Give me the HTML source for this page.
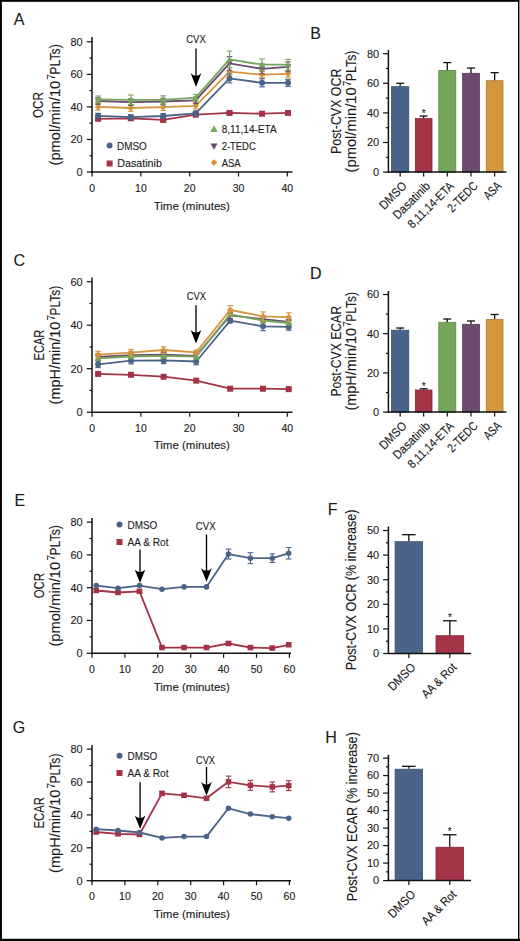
<!DOCTYPE html>
<html><head><meta charset="utf-8"><style>
html,body{margin:0;padding:0;background:#fff;}
svg{display:block;}
text{font-family:"Liberation Sans", sans-serif;fill:#1a1a1a;stroke:#1a1a1a;stroke-width:0.12px;}
</style></head><body>
<svg width="520" height="941" viewBox="0 0 520 941">
<rect x="0" y="0" width="520" height="941" fill="#fff"/>
<g>
<text x="13.8" y="25" font-size="16" text-anchor="start">A</text>
<line x1="92" y1="37" x2="92" y2="172.6" stroke="#111" stroke-width="1.5"/>
<line x1="86.7" y1="172.0" x2="92" y2="172.0" stroke="#111" stroke-width="1.2"/>
<text x="82.6" y="175.8" font-size="11.8" text-anchor="end" textLength="6.1" lengthAdjust="spacingAndGlyphs">0</text>
<line x1="86.7" y1="139.45" x2="92" y2="139.45" stroke="#111" stroke-width="1.2"/>
<text x="82.6" y="143.25" font-size="11.8" text-anchor="end" textLength="12.2" lengthAdjust="spacingAndGlyphs">20</text>
<line x1="86.7" y1="106.9" x2="92" y2="106.9" stroke="#111" stroke-width="1.2"/>
<text x="82.6" y="110.7" font-size="11.8" text-anchor="end" textLength="12.2" lengthAdjust="spacingAndGlyphs">40</text>
<line x1="86.7" y1="74.35000000000001" x2="92" y2="74.35000000000001" stroke="#111" stroke-width="1.2"/>
<text x="82.6" y="78.15" font-size="11.8" text-anchor="end" textLength="12.2" lengthAdjust="spacingAndGlyphs">60</text>
<line x1="86.7" y1="41.80000000000001" x2="92" y2="41.80000000000001" stroke="#111" stroke-width="1.2"/>
<text x="82.6" y="45.60000000000001" font-size="11.8" text-anchor="end" textLength="12.2" lengthAdjust="spacingAndGlyphs">80</text>
<line x1="89.5" y1="155.725" x2="92" y2="155.725" stroke="#111" stroke-width="1.2"/>
<line x1="89.5" y1="123.17500000000001" x2="92" y2="123.17500000000001" stroke="#111" stroke-width="1.2"/>
<line x1="89.5" y1="90.625" x2="92" y2="90.625" stroke="#111" stroke-width="1.2"/>
<line x1="89.5" y1="58.075" x2="92" y2="58.075" stroke="#111" stroke-width="1.2"/>
<line x1="91.25" y1="172" x2="292.4" y2="172" stroke="#111" stroke-width="1.5"/>
<line x1="92.1" y1="172" x2="92.1" y2="176.5" stroke="#111" stroke-width="1.2"/>
<text x="92.1" y="191.6" font-size="10.5" text-anchor="middle">0</text>
<line x1="140.89999999999998" y1="172" x2="140.89999999999998" y2="176.5" stroke="#111" stroke-width="1.2"/>
<text x="140.89999999999998" y="191.6" font-size="10.5" text-anchor="middle">10</text>
<line x1="189.7" y1="172" x2="189.7" y2="176.5" stroke="#111" stroke-width="1.2"/>
<text x="189.7" y="191.6" font-size="10.5" text-anchor="middle">20</text>
<line x1="238.5" y1="172" x2="238.5" y2="176.5" stroke="#111" stroke-width="1.2"/>
<text x="238.5" y="191.6" font-size="10.5" text-anchor="middle">30</text>
<line x1="287.29999999999995" y1="172" x2="287.29999999999995" y2="176.5" stroke="#111" stroke-width="1.2"/>
<text x="287.29999999999995" y="191.6" font-size="10.5" text-anchor="middle">40</text>
<text x="191.8" y="210.3" font-size="11.5" text-anchor="middle">Time (minutes)</text>
<text x="43.4" y="105" font-size="15" text-anchor="middle" transform="rotate(-90 43.4 105)" textLength="26" lengthAdjust="spacingAndGlyphs">OCR</text>
<text x="60" y="165.5" font-size="14" transform="rotate(-90 60 165.5)" textLength="84.7" lengthAdjust="spacingAndGlyphs">(pmol/min/10</text>
<text x="54.8" y="79.7" font-size="10" transform="rotate(-90 54.8 79.7)">7</text>
<text x="60" y="74.7" font-size="14" transform="rotate(-90 60 74.7)" textLength="30.5" lengthAdjust="spacingAndGlyphs">PLTs)</text>
<text x="196" y="43.1" font-size="11.2" text-anchor="middle" textLength="19.6" lengthAdjust="spacingAndGlyphs">CVX</text>
<line x1="196" y1="48.5" x2="196" y2="76.50000000000001" stroke="#000" stroke-width="1.35"/>
<path d="M190.7,73.30000000000001 Q196,78.42000000000002 201.3,73.30000000000001 L196,86.9 Z" fill="#000"/>
<polyline points="98.1,118.8 130.8,118.3 163.2,119.9 195.7,114.7 229.5,112.9 262.0,113.7 288.0,112.9" fill="none" stroke="#a33346" stroke-width="1.8" stroke-linejoin="round"/>
<line x1="98.1" y1="117.47874999999999" x2="98.1" y2="120.08275" stroke="#a33346" stroke-width="1.1"/>
<line x1="95.3" y1="117.47874999999999" x2="100.89999999999999" y2="117.47874999999999" stroke="#a33346" stroke-width="1.1"/>
<line x1="95.3" y1="120.08275" x2="100.89999999999999" y2="120.08275" stroke="#a33346" stroke-width="1.1"/>
<line x1="130.8" y1="116.9905" x2="130.8" y2="119.59450000000001" stroke="#a33346" stroke-width="1.1"/>
<line x1="128.0" y1="116.9905" x2="133.60000000000002" y2="116.9905" stroke="#a33346" stroke-width="1.1"/>
<line x1="128.0" y1="119.59450000000001" x2="133.60000000000002" y2="119.59450000000001" stroke="#a33346" stroke-width="1.1"/>
<line x1="163.2" y1="118.2925" x2="163.2" y2="121.5475" stroke="#a33346" stroke-width="1.1"/>
<line x1="160.39999999999998" y1="118.2925" x2="166.0" y2="118.2925" stroke="#a33346" stroke-width="1.1"/>
<line x1="160.39999999999998" y1="121.5475" x2="166.0" y2="121.5475" stroke="#a33346" stroke-width="1.1"/>
<line x1="195.7" y1="113.40999999999998" x2="195.7" y2="116.014" stroke="#a33346" stroke-width="1.1"/>
<line x1="192.89999999999998" y1="113.40999999999998" x2="198.5" y2="113.40999999999998" stroke="#a33346" stroke-width="1.1"/>
<line x1="192.89999999999998" y1="116.014" x2="198.5" y2="116.014" stroke="#a33346" stroke-width="1.1"/>
<line x1="229.5" y1="110.96875" x2="229.5" y2="114.87475" stroke="#a33346" stroke-width="1.1"/>
<line x1="226.7" y1="110.96875" x2="232.3" y2="110.96875" stroke="#a33346" stroke-width="1.1"/>
<line x1="226.7" y1="114.87475" x2="232.3" y2="114.87475" stroke="#a33346" stroke-width="1.1"/>
<line x1="262" y1="112.108" x2="262" y2="115.363" stroke="#a33346" stroke-width="1.1"/>
<line x1="259.2" y1="112.108" x2="264.8" y2="112.108" stroke="#a33346" stroke-width="1.1"/>
<line x1="259.2" y1="115.363" x2="264.8" y2="115.363" stroke="#a33346" stroke-width="1.1"/>
<line x1="288" y1="111.29425" x2="288" y2="114.54925" stroke="#a33346" stroke-width="1.1"/>
<line x1="285.2" y1="111.29425" x2="290.8" y2="111.29425" stroke="#a33346" stroke-width="1.1"/>
<line x1="285.2" y1="114.54925" x2="290.8" y2="114.54925" stroke="#a33346" stroke-width="1.1"/>
<rect x="95.1" y="115.78075" width="6.0" height="6.0" fill="#a33346"/>
<rect x="127.80000000000001" y="115.2925" width="6.0" height="6.0" fill="#a33346"/>
<rect x="160.2" y="116.92" width="6.0" height="6.0" fill="#a33346"/>
<rect x="192.7" y="111.71199999999999" width="6.0" height="6.0" fill="#a33346"/>
<rect x="226.5" y="109.92175" width="6.0" height="6.0" fill="#a33346"/>
<rect x="259.0" y="110.7355" width="6.0" height="6.0" fill="#a33346"/>
<rect x="285.0" y="109.92175" width="6.0" height="6.0" fill="#a33346"/>
<polyline points="98.1,106.9 130.8,108.0 163.2,107.2 195.7,105.8 229.5,71.7 262.0,74.7 288.0,73.9" fill="none" stroke="#d6943c" stroke-width="1.8" stroke-linejoin="round"/>
<line x1="98.1" y1="103.64500000000001" x2="98.1" y2="110.155" stroke="#d6943c" stroke-width="1.1"/>
<line x1="95.3" y1="103.64500000000001" x2="100.89999999999999" y2="103.64500000000001" stroke="#d6943c" stroke-width="1.1"/>
<line x1="95.3" y1="110.155" x2="100.89999999999999" y2="110.155" stroke="#d6943c" stroke-width="1.1"/>
<line x1="130.8" y1="104.78425000000001" x2="130.8" y2="111.29425" stroke="#d6943c" stroke-width="1.1"/>
<line x1="128.0" y1="104.78425000000001" x2="133.60000000000002" y2="104.78425000000001" stroke="#d6943c" stroke-width="1.1"/>
<line x1="128.0" y1="111.29425" x2="133.60000000000002" y2="111.29425" stroke="#d6943c" stroke-width="1.1"/>
<line x1="163.2" y1="103.97050000000002" x2="163.2" y2="110.4805" stroke="#d6943c" stroke-width="1.1"/>
<line x1="160.39999999999998" y1="103.97050000000002" x2="166.0" y2="103.97050000000002" stroke="#d6943c" stroke-width="1.1"/>
<line x1="160.39999999999998" y1="110.4805" x2="166.0" y2="110.4805" stroke="#d6943c" stroke-width="1.1"/>
<line x1="195.7" y1="102.50575" x2="195.7" y2="109.01575" stroke="#d6943c" stroke-width="1.1"/>
<line x1="192.89999999999998" y1="102.50575" x2="198.5" y2="102.50575" stroke="#d6943c" stroke-width="1.1"/>
<line x1="192.89999999999998" y1="109.01575" x2="198.5" y2="109.01575" stroke="#d6943c" stroke-width="1.1"/>
<line x1="229.5" y1="67.67725" x2="229.5" y2="75.81474999999999" stroke="#d6943c" stroke-width="1.1"/>
<line x1="226.7" y1="67.67725" x2="232.3" y2="67.67725" stroke="#d6943c" stroke-width="1.1"/>
<line x1="226.7" y1="75.81474999999999" x2="232.3" y2="75.81474999999999" stroke="#d6943c" stroke-width="1.1"/>
<line x1="262" y1="71.42050000000002" x2="262" y2="77.93050000000001" stroke="#d6943c" stroke-width="1.1"/>
<line x1="259.2" y1="71.42050000000002" x2="264.8" y2="71.42050000000002" stroke="#d6943c" stroke-width="1.1"/>
<line x1="259.2" y1="77.93050000000001" x2="264.8" y2="77.93050000000001" stroke="#d6943c" stroke-width="1.1"/>
<line x1="288" y1="70.60675000000002" x2="288" y2="77.11675000000001" stroke="#d6943c" stroke-width="1.1"/>
<line x1="285.2" y1="70.60675000000002" x2="290.8" y2="70.60675000000002" stroke="#d6943c" stroke-width="1.1"/>
<line x1="285.2" y1="77.11675000000001" x2="290.8" y2="77.11675000000001" stroke="#d6943c" stroke-width="1.1"/>
<polygon points="98.1,103.60000000000001 101.39999999999999,106.9 98.1,110.2 94.8,106.9" fill="#d6943c"/>
<polygon points="130.8,104.73925000000001 134.10000000000002,108.03925000000001 130.8,111.33925 127.50000000000001,108.03925000000001" fill="#d6943c"/>
<polygon points="163.2,103.92550000000001 166.5,107.22550000000001 163.2,110.52550000000001 159.89999999999998,107.22550000000001" fill="#d6943c"/>
<polygon points="195.7,102.46075 199.0,105.76075 195.7,109.06075 192.39999999999998,105.76075" fill="#d6943c"/>
<polygon points="229.5,68.446 232.8,71.746 229.5,75.04599999999999 226.2,71.746" fill="#d6943c"/>
<polygon points="262,71.37550000000002 265.3,74.67550000000001 262,77.97550000000001 258.7,74.67550000000001" fill="#d6943c"/>
<polygon points="288,70.56175000000002 291.3,73.86175000000001 288,77.16175000000001 284.7,73.86175000000001" fill="#d6943c"/>
<polyline points="98.1,115.9 130.8,117.2 163.2,116.0 195.7,113.4 229.5,78.4 262.0,82.8 288.0,82.8" fill="none" stroke="#4a6388" stroke-width="1.8" stroke-linejoin="round"/>
<line x1="98.1" y1="113.41" x2="98.1" y2="118.29249999999999" stroke="#4a6388" stroke-width="1.1"/>
<line x1="95.3" y1="113.41" x2="100.89999999999999" y2="113.41" stroke="#4a6388" stroke-width="1.1"/>
<line x1="95.3" y1="118.29249999999999" x2="100.89999999999999" y2="118.29249999999999" stroke="#4a6388" stroke-width="1.1"/>
<line x1="130.8" y1="114.712" x2="130.8" y2="119.5945" stroke="#4a6388" stroke-width="1.1"/>
<line x1="128.0" y1="114.712" x2="133.60000000000002" y2="114.712" stroke="#4a6388" stroke-width="1.1"/>
<line x1="128.0" y1="119.5945" x2="133.60000000000002" y2="119.5945" stroke="#4a6388" stroke-width="1.1"/>
<line x1="163.2" y1="113.57275000000001" x2="163.2" y2="118.45525" stroke="#4a6388" stroke-width="1.1"/>
<line x1="160.39999999999998" y1="113.57275000000001" x2="166.0" y2="113.57275000000001" stroke="#4a6388" stroke-width="1.1"/>
<line x1="160.39999999999998" y1="118.45525" x2="166.0" y2="118.45525" stroke="#4a6388" stroke-width="1.1"/>
<line x1="195.7" y1="110.96875" x2="195.7" y2="115.85125" stroke="#4a6388" stroke-width="1.1"/>
<line x1="192.89999999999998" y1="110.96875" x2="198.5" y2="110.96875" stroke="#4a6388" stroke-width="1.1"/>
<line x1="192.89999999999998" y1="115.85125" x2="198.5" y2="115.85125" stroke="#4a6388" stroke-width="1.1"/>
<line x1="229.5" y1="74.0245" x2="229.5" y2="82.813" stroke="#4a6388" stroke-width="1.1"/>
<line x1="226.7" y1="74.0245" x2="232.3" y2="74.0245" stroke="#4a6388" stroke-width="1.1"/>
<line x1="226.7" y1="82.813" x2="232.3" y2="82.813" stroke="#4a6388" stroke-width="1.1"/>
<line x1="262" y1="78.74425000000001" x2="262" y2="86.88175" stroke="#4a6388" stroke-width="1.1"/>
<line x1="259.2" y1="78.74425000000001" x2="264.8" y2="78.74425000000001" stroke="#4a6388" stroke-width="1.1"/>
<line x1="259.2" y1="86.88175" x2="264.8" y2="86.88175" stroke="#4a6388" stroke-width="1.1"/>
<line x1="288" y1="79.2325" x2="288" y2="86.3935" stroke="#4a6388" stroke-width="1.1"/>
<line x1="285.2" y1="79.2325" x2="290.8" y2="79.2325" stroke="#4a6388" stroke-width="1.1"/>
<line x1="285.2" y1="86.3935" x2="290.8" y2="86.3935" stroke="#4a6388" stroke-width="1.1"/>
<circle cx="98.1" cy="115.85125" r="3.0" fill="#4a6388"/>
<circle cx="130.8" cy="117.15325" r="3.0" fill="#4a6388"/>
<circle cx="163.2" cy="116.01400000000001" r="3.0" fill="#4a6388"/>
<circle cx="195.7" cy="113.41" r="3.0" fill="#4a6388"/>
<circle cx="229.5" cy="78.41875" r="3.0" fill="#4a6388"/>
<circle cx="262" cy="82.813" r="3.0" fill="#4a6388"/>
<circle cx="288" cy="82.813" r="3.0" fill="#4a6388"/>
<polyline points="98.1,101.0 130.8,102.2 163.2,101.5 195.7,100.4 229.5,63.4 262.0,68.8 288.0,66.9" fill="none" stroke="#6b4a6e" stroke-width="1.8" stroke-linejoin="round"/>
<line x1="98.1" y1="97.786" x2="98.1" y2="104.29599999999999" stroke="#6b4a6e" stroke-width="1.1"/>
<line x1="95.3" y1="97.786" x2="100.89999999999999" y2="97.786" stroke="#6b4a6e" stroke-width="1.1"/>
<line x1="95.3" y1="104.29599999999999" x2="100.89999999999999" y2="104.29599999999999" stroke="#6b4a6e" stroke-width="1.1"/>
<line x1="130.8" y1="98.92525" x2="130.8" y2="105.43525" stroke="#6b4a6e" stroke-width="1.1"/>
<line x1="128.0" y1="98.92525" x2="133.60000000000002" y2="98.92525" stroke="#6b4a6e" stroke-width="1.1"/>
<line x1="128.0" y1="105.43525" x2="133.60000000000002" y2="105.43525" stroke="#6b4a6e" stroke-width="1.1"/>
<line x1="163.2" y1="98.27425000000001" x2="163.2" y2="104.78425" stroke="#6b4a6e" stroke-width="1.1"/>
<line x1="160.39999999999998" y1="98.27425000000001" x2="166.0" y2="98.27425000000001" stroke="#6b4a6e" stroke-width="1.1"/>
<line x1="160.39999999999998" y1="104.78425" x2="166.0" y2="104.78425" stroke="#6b4a6e" stroke-width="1.1"/>
<line x1="195.7" y1="97.135" x2="195.7" y2="103.645" stroke="#6b4a6e" stroke-width="1.1"/>
<line x1="192.89999999999998" y1="97.135" x2="198.5" y2="97.135" stroke="#6b4a6e" stroke-width="1.1"/>
<line x1="192.89999999999998" y1="103.645" x2="198.5" y2="103.645" stroke="#6b4a6e" stroke-width="1.1"/>
<line x1="229.5" y1="56.61025000000001" x2="229.5" y2="70.28125" stroke="#6b4a6e" stroke-width="1.1"/>
<line x1="226.7" y1="56.61025000000001" x2="232.3" y2="56.61025000000001" stroke="#6b4a6e" stroke-width="1.1"/>
<line x1="226.7" y1="70.28125" x2="232.3" y2="70.28125" stroke="#6b4a6e" stroke-width="1.1"/>
<line x1="262" y1="63.934000000000005" x2="262" y2="73.69900000000001" stroke="#6b4a6e" stroke-width="1.1"/>
<line x1="259.2" y1="63.934000000000005" x2="264.8" y2="63.934000000000005" stroke="#6b4a6e" stroke-width="1.1"/>
<line x1="259.2" y1="73.69900000000001" x2="264.8" y2="73.69900000000001" stroke="#6b4a6e" stroke-width="1.1"/>
<line x1="288" y1="61.981000000000016" x2="288" y2="71.74600000000001" stroke="#6b4a6e" stroke-width="1.1"/>
<line x1="285.2" y1="61.981000000000016" x2="290.8" y2="61.981000000000016" stroke="#6b4a6e" stroke-width="1.1"/>
<line x1="285.2" y1="71.74600000000001" x2="290.8" y2="71.74600000000001" stroke="#6b4a6e" stroke-width="1.1"/>
<polygon points="94.89999999999999,98.481 101.3,98.481 98.1,104.241" fill="#6b4a6e"/>
<polygon points="127.60000000000001,99.62025 134.0,99.62025 130.8,105.38025" fill="#6b4a6e"/>
<polygon points="160.0,98.96925 166.39999999999998,98.96925 163.2,104.72925000000001" fill="#6b4a6e"/>
<polygon points="192.5,97.83 198.89999999999998,97.83 195.7,103.59" fill="#6b4a6e"/>
<polygon points="226.3,60.88575 232.7,60.88575 229.5,66.64575" fill="#6b4a6e"/>
<polygon points="258.8,66.2565 265.2,66.2565 262,72.01650000000001" fill="#6b4a6e"/>
<polygon points="284.8,64.30350000000001 291.2,64.30350000000001 288,70.06350000000002" fill="#6b4a6e"/>
<polyline points="98.1,99.3 130.8,99.9 163.2,99.9 195.7,97.6 229.5,59.4 262.0,64.7 288.0,64.7" fill="none" stroke="#74a65c" stroke-width="1.8" stroke-linejoin="round"/>
<line x1="98.1" y1="95.99575" x2="98.1" y2="102.50574999999999" stroke="#74a65c" stroke-width="1.1"/>
<line x1="95.3" y1="95.99575" x2="100.89999999999999" y2="95.99575" stroke="#74a65c" stroke-width="1.1"/>
<line x1="95.3" y1="102.50574999999999" x2="100.89999999999999" y2="102.50574999999999" stroke="#74a65c" stroke-width="1.1"/>
<line x1="130.8" y1="95.01925" x2="130.8" y2="104.78425000000001" stroke="#74a65c" stroke-width="1.1"/>
<line x1="128.0" y1="95.01925" x2="133.60000000000002" y2="95.01925" stroke="#74a65c" stroke-width="1.1"/>
<line x1="128.0" y1="104.78425000000001" x2="133.60000000000002" y2="104.78425000000001" stroke="#74a65c" stroke-width="1.1"/>
<line x1="163.2" y1="95.83300000000001" x2="163.2" y2="103.9705" stroke="#74a65c" stroke-width="1.1"/>
<line x1="160.39999999999998" y1="95.83300000000001" x2="166.0" y2="95.83300000000001" stroke="#74a65c" stroke-width="1.1"/>
<line x1="160.39999999999998" y1="103.9705" x2="166.0" y2="103.9705" stroke="#74a65c" stroke-width="1.1"/>
<line x1="195.7" y1="94.36825" x2="195.7" y2="100.87825" stroke="#74a65c" stroke-width="1.1"/>
<line x1="192.89999999999998" y1="94.36825" x2="198.5" y2="94.36825" stroke="#74a65c" stroke-width="1.1"/>
<line x1="192.89999999999998" y1="100.87825" x2="198.5" y2="100.87825" stroke="#74a65c" stroke-width="1.1"/>
<line x1="229.5" y1="51.07675" x2="229.5" y2="67.67724999999999" stroke="#74a65c" stroke-width="1.1"/>
<line x1="226.7" y1="51.07675" x2="232.3" y2="51.07675" stroke="#74a65c" stroke-width="1.1"/>
<line x1="226.7" y1="67.67724999999999" x2="232.3" y2="67.67724999999999" stroke="#74a65c" stroke-width="1.1"/>
<line x1="262" y1="58.888749999999995" x2="262" y2="70.60674999999999" stroke="#74a65c" stroke-width="1.1"/>
<line x1="259.2" y1="58.888749999999995" x2="264.8" y2="58.888749999999995" stroke="#74a65c" stroke-width="1.1"/>
<line x1="259.2" y1="70.60674999999999" x2="264.8" y2="70.60674999999999" stroke="#74a65c" stroke-width="1.1"/>
<line x1="288" y1="59.376999999999995" x2="288" y2="70.1185" stroke="#74a65c" stroke-width="1.1"/>
<line x1="285.2" y1="59.376999999999995" x2="290.8" y2="59.376999999999995" stroke="#74a65c" stroke-width="1.1"/>
<line x1="285.2" y1="70.1185" x2="290.8" y2="70.1185" stroke="#74a65c" stroke-width="1.1"/>
<polygon points="94.89999999999999,101.81075 101.3,101.81075 98.1,96.05075" fill="#74a65c"/>
<polygon points="127.60000000000001,102.46175000000001 134.0,102.46175000000001 130.8,96.70175" fill="#74a65c"/>
<polygon points="160.0,102.46175000000001 166.39999999999998,102.46175000000001 163.2,96.70175" fill="#74a65c"/>
<polygon points="192.5,100.18325 198.89999999999998,100.18325 195.7,94.42325" fill="#74a65c"/>
<polygon points="226.3,61.937 232.7,61.937 229.5,56.17699999999999" fill="#74a65c"/>
<polygon points="258.8,67.30775 265.2,67.30775 262,61.54774999999999" fill="#74a65c"/>
<polygon points="284.8,67.30775 291.2,67.30775 288,61.54774999999999" fill="#74a65c"/>
<circle cx="109.6" cy="145.6" r="3.0" fill="#4a6388"/>
<text x="117" y="150.2" font-size="11.8" text-anchor="start" textLength="29.8" lengthAdjust="spacingAndGlyphs">DMSO</text>
<rect x="106.6" y="160.5" width="6.0" height="6.0" fill="#a33346"/>
<text x="117.3" y="166.7" font-size="11.8" text-anchor="start" textLength="44.6" lengthAdjust="spacingAndGlyphs">Dasatinib</text>
<polygon points="210.32,131.944 217.68,131.944 214,125.32" fill="#74a65c"/>
<text x="221.7" y="132.6" font-size="11.8" text-anchor="start" textLength="55" lengthAdjust="spacingAndGlyphs">8,11,14-ETA</text>
<polygon points="210.48,143.484 217.52,143.484 214,149.82000000000002" fill="#6b4a6e"/>
<text x="221.7" y="150.2" font-size="11.8" text-anchor="start" textLength="34" lengthAdjust="spacingAndGlyphs">2-TEDC</text>
<polygon points="214,159.2 217.3,162.5 214,165.8 210.7,162.5" fill="#d6943c"/>
<text x="221.7" y="166.7" font-size="11.8" text-anchor="start" textLength="19" lengthAdjust="spacingAndGlyphs">ASA</text>
</g>
<text x="310.3" y="38.5" font-size="16" text-anchor="start">B</text>
<rect x="391.5" y="86.7" width="17.3" height="85.4" fill="#4a6388" stroke="#3c516f" stroke-width="0.8"/>
<line x1="400.15" y1="83.3" x2="400.15" y2="86.25999999999999" stroke="#111" stroke-width="1.3"/>
<line x1="396.15" y1="83.3" x2="404.15" y2="83.3" stroke="#111" stroke-width="1.3"/>
<rect x="415.29999999999995" y="118.5" width="16.7" height="53.6" fill="#a33346" stroke="#852939" stroke-width="0.8"/>
<line x1="423.65" y1="116.008" x2="423.65" y2="118.08" stroke="#111" stroke-width="1.3"/>
<line x1="419.65" y1="116.008" x2="427.65" y2="116.008" stroke="#111" stroke-width="1.3"/>
<rect x="438.79999999999995" y="70.4" width="17.0" height="101.7" fill="#74a65c" stroke="#5f884b" stroke-width="0.8"/>
<line x1="447.29999999999995" y1="62.58" x2="447.29999999999995" y2="69.97999999999999" stroke="#111" stroke-width="1.3"/>
<line x1="443.29999999999995" y1="62.58" x2="451.29999999999995" y2="62.58" stroke="#111" stroke-width="1.3"/>
<rect x="462.59999999999997" y="73.3" width="16.8" height="98.8" fill="#6b4a6e" stroke="#573c5a" stroke-width="0.8"/>
<line x1="471.0" y1="68.056" x2="471.0" y2="72.94" stroke="#111" stroke-width="1.3"/>
<line x1="467.0" y1="68.056" x2="475.0" y2="68.056" stroke="#111" stroke-width="1.3"/>
<rect x="486.29999999999995" y="80.7" width="16.7" height="91.4" fill="#d6943c" stroke="#af7931" stroke-width="0.8"/>
<line x1="494.65" y1="72.64399999999999" x2="494.65" y2="80.33999999999999" stroke="#111" stroke-width="1.3"/>
<line x1="490.65" y1="72.64399999999999" x2="498.65" y2="72.64399999999999" stroke="#111" stroke-width="1.3"/>
<line x1="388.4" y1="50" x2="388.4" y2="172.7" stroke="#111" stroke-width="1.5"/>
<line x1="383.09999999999997" y1="172.1" x2="388.4" y2="172.1" stroke="#111" stroke-width="1.2"/>
<text x="379.2" y="175.9" font-size="11.8" text-anchor="end" textLength="6.1" lengthAdjust="spacingAndGlyphs">0</text>
<line x1="383.09999999999997" y1="142.5" x2="388.4" y2="142.5" stroke="#111" stroke-width="1.2"/>
<text x="379.2" y="146.3" font-size="11.8" text-anchor="end" textLength="12.2" lengthAdjust="spacingAndGlyphs">20</text>
<line x1="383.09999999999997" y1="112.89999999999999" x2="388.4" y2="112.89999999999999" stroke="#111" stroke-width="1.2"/>
<text x="379.2" y="116.69999999999999" font-size="11.8" text-anchor="end" textLength="12.2" lengthAdjust="spacingAndGlyphs">40</text>
<line x1="383.09999999999997" y1="83.3" x2="388.4" y2="83.3" stroke="#111" stroke-width="1.2"/>
<text x="379.2" y="87.1" font-size="11.8" text-anchor="end" textLength="12.2" lengthAdjust="spacingAndGlyphs">60</text>
<line x1="383.09999999999997" y1="53.69999999999999" x2="388.4" y2="53.69999999999999" stroke="#111" stroke-width="1.2"/>
<text x="379.2" y="57.499999999999986" font-size="11.8" text-anchor="end" textLength="12.2" lengthAdjust="spacingAndGlyphs">80</text>
<line x1="385.9" y1="157.29999999999998" x2="388.4" y2="157.29999999999998" stroke="#111" stroke-width="1.2"/>
<line x1="385.9" y1="127.69999999999999" x2="388.4" y2="127.69999999999999" stroke="#111" stroke-width="1.2"/>
<line x1="385.9" y1="98.1" x2="388.4" y2="98.1" stroke="#111" stroke-width="1.2"/>
<line x1="385.9" y1="68.5" x2="388.4" y2="68.5" stroke="#111" stroke-width="1.2"/>
<line x1="387.6" y1="172.1" x2="506.4" y2="172.1" stroke="#111" stroke-width="1.5"/>
<line x1="400.15" y1="172.1" x2="400.15" y2="176.6" stroke="#111" stroke-width="1.2"/>
<text x="407.54999999999995" y="186.8" font-size="12.3" text-anchor="end" transform="rotate(-45 407.54999999999995 186.8)" textLength="33" lengthAdjust="spacingAndGlyphs">DMSO</text>
<line x1="423.65" y1="172.1" x2="423.65" y2="176.6" stroke="#111" stroke-width="1.2"/>
<text x="431.04999999999995" y="186.8" font-size="12.3" text-anchor="end" transform="rotate(-45 431.04999999999995 186.8)" textLength="47" lengthAdjust="spacingAndGlyphs">Dasatinib</text>
<line x1="447.29999999999995" y1="172.1" x2="447.29999999999995" y2="176.6" stroke="#111" stroke-width="1.2"/>
<text x="454.69999999999993" y="186.8" font-size="12.3" text-anchor="end" transform="rotate(-45 454.69999999999993 186.8)" textLength="59.5" lengthAdjust="spacingAndGlyphs">8,11,14-ETA</text>
<line x1="471.0" y1="172.1" x2="471.0" y2="176.6" stroke="#111" stroke-width="1.2"/>
<text x="478.4" y="186.8" font-size="12.3" text-anchor="end" transform="rotate(-45 478.4 186.8)" textLength="37.1" lengthAdjust="spacingAndGlyphs">2-TEDC</text>
<line x1="494.65" y1="172.1" x2="494.65" y2="176.6" stroke="#111" stroke-width="1.2"/>
<text x="502.04999999999995" y="186.8" font-size="12.3" text-anchor="end" transform="rotate(-45 502.04999999999995 186.8)" textLength="19.3" lengthAdjust="spacingAndGlyphs">ASA</text>
<text x="423.8" y="117" font-size="10" text-anchor="middle">*</text>
<text x="340.8" y="111.3" font-size="15" text-anchor="middle" transform="rotate(-90 340.8 111.3)" textLength="85.3" lengthAdjust="spacingAndGlyphs">Post-CVX OCR</text>
<text x="356.3" y="172.4" font-size="14" transform="rotate(-90 356.3 172.4)" textLength="85.0" lengthAdjust="spacingAndGlyphs">(pmol/min/10</text>
<text x="351.1" y="86.2" font-size="10" transform="rotate(-90 351.1 86.2)">7</text>
<text x="356.3" y="81.2" font-size="14" transform="rotate(-90 356.3 81.2)" textLength="30.6" lengthAdjust="spacingAndGlyphs">PLTs)</text>
<text x="13.6" y="266" font-size="16" text-anchor="start">C</text>
<line x1="92" y1="277.5" x2="92" y2="412.8" stroke="#111" stroke-width="1.5"/>
<line x1="86.7" y1="412.2" x2="92" y2="412.2" stroke="#111" stroke-width="1.2"/>
<text x="82.6" y="416.0" font-size="11.8" text-anchor="end" textLength="6.1" lengthAdjust="spacingAndGlyphs">0</text>
<line x1="86.7" y1="368.7" x2="92" y2="368.7" stroke="#111" stroke-width="1.2"/>
<text x="82.6" y="372.5" font-size="11.8" text-anchor="end" textLength="12.2" lengthAdjust="spacingAndGlyphs">20</text>
<line x1="86.7" y1="325.2" x2="92" y2="325.2" stroke="#111" stroke-width="1.2"/>
<text x="82.6" y="329.0" font-size="11.8" text-anchor="end" textLength="12.2" lengthAdjust="spacingAndGlyphs">40</text>
<line x1="86.7" y1="281.7" x2="92" y2="281.7" stroke="#111" stroke-width="1.2"/>
<text x="82.6" y="285.5" font-size="11.8" text-anchor="end" textLength="12.2" lengthAdjust="spacingAndGlyphs">60</text>
<line x1="89.5" y1="390.45" x2="92" y2="390.45" stroke="#111" stroke-width="1.2"/>
<line x1="89.5" y1="346.95" x2="92" y2="346.95" stroke="#111" stroke-width="1.2"/>
<line x1="89.5" y1="303.45" x2="92" y2="303.45" stroke="#111" stroke-width="1.2"/>
<line x1="91.25" y1="412.2" x2="292.4" y2="412.2" stroke="#111" stroke-width="1.5"/>
<line x1="92.1" y1="412.2" x2="92.1" y2="416.7" stroke="#111" stroke-width="1.2"/>
<text x="92.1" y="431.8" font-size="10.5" text-anchor="middle">0</text>
<line x1="140.89999999999998" y1="412.2" x2="140.89999999999998" y2="416.7" stroke="#111" stroke-width="1.2"/>
<text x="140.89999999999998" y="431.8" font-size="10.5" text-anchor="middle">10</text>
<line x1="189.7" y1="412.2" x2="189.7" y2="416.7" stroke="#111" stroke-width="1.2"/>
<text x="189.7" y="431.8" font-size="10.5" text-anchor="middle">20</text>
<line x1="238.5" y1="412.2" x2="238.5" y2="416.7" stroke="#111" stroke-width="1.2"/>
<text x="238.5" y="431.8" font-size="10.5" text-anchor="middle">30</text>
<line x1="287.29999999999995" y1="412.2" x2="287.29999999999995" y2="416.7" stroke="#111" stroke-width="1.2"/>
<text x="287.29999999999995" y="431.8" font-size="10.5" text-anchor="middle">40</text>
<text x="191.8" y="448.5" font-size="11.5" text-anchor="middle">Time (minutes)</text>
<text x="44.1" y="345.1" font-size="15" text-anchor="middle" transform="rotate(-90 44.1 345.1)" textLength="30.6" lengthAdjust="spacingAndGlyphs">ECAR</text>
<text x="60.3" y="404.4" font-size="14" transform="rotate(-90 60.3 404.4)" textLength="82.8" lengthAdjust="spacingAndGlyphs">(mpH/min/10</text>
<text x="55.099999999999994" y="320.4" font-size="10" transform="rotate(-90 55.099999999999994 320.4)">7</text>
<text x="60.3" y="315.4" font-size="14" transform="rotate(-90 60.3 315.4)" textLength="29.6" lengthAdjust="spacingAndGlyphs">PLTs)</text>
<text x="196.3" y="300.2" font-size="11.2" text-anchor="middle" textLength="19.2" lengthAdjust="spacingAndGlyphs">CVX</text>
<line x1="196" y1="305.3" x2="196" y2="333.09999999999997" stroke="#000" stroke-width="1.35"/>
<path d="M190.7,329.9 Q196,335.02 201.3,329.9 L196,343.5 Z" fill="#000"/>
<polyline points="98.1,373.9 131.0,374.8 163.6,376.7 196.2,380.7 230.2,388.7 263.0,388.7 288.7,389.1" fill="none" stroke="#a33346" stroke-width="1.8" stroke-linejoin="round"/>
<rect x="95.1" y="370.91999999999996" width="6.0" height="6.0" fill="#a33346"/>
<rect x="128.0" y="371.78999999999996" width="6.0" height="6.0" fill="#a33346"/>
<rect x="160.6" y="373.7475" width="6.0" height="6.0" fill="#a33346"/>
<rect x="193.2" y="377.66249999999997" width="6.0" height="6.0" fill="#a33346"/>
<rect x="227.2" y="385.71" width="6.0" height="6.0" fill="#a33346"/>
<rect x="260.0" y="385.71" width="6.0" height="6.0" fill="#a33346"/>
<rect x="285.7" y="386.145" width="6.0" height="6.0" fill="#a33346"/>
<polyline points="98.1,364.4 131.0,360.7 163.6,360.4 196.2,361.5 230.2,320.6 263.0,326.3 288.7,326.9" fill="none" stroke="#4a6388" stroke-width="1.8" stroke-linejoin="round"/>
<line x1="98.1" y1="361.08750000000003" x2="98.1" y2="367.6125" stroke="#4a6388" stroke-width="1.1"/>
<line x1="95.3" y1="361.08750000000003" x2="100.89999999999999" y2="361.08750000000003" stroke="#4a6388" stroke-width="1.1"/>
<line x1="95.3" y1="367.6125" x2="100.89999999999999" y2="367.6125" stroke="#4a6388" stroke-width="1.1"/>
<line x1="131" y1="357.39" x2="131" y2="363.91499999999996" stroke="#4a6388" stroke-width="1.1"/>
<line x1="128.2" y1="357.39" x2="133.8" y2="357.39" stroke="#4a6388" stroke-width="1.1"/>
<line x1="128.2" y1="363.91499999999996" x2="133.8" y2="363.91499999999996" stroke="#4a6388" stroke-width="1.1"/>
<line x1="163.6" y1="357.1725" x2="163.6" y2="363.6975" stroke="#4a6388" stroke-width="1.1"/>
<line x1="160.79999999999998" y1="357.1725" x2="166.4" y2="357.1725" stroke="#4a6388" stroke-width="1.1"/>
<line x1="160.79999999999998" y1="363.6975" x2="166.4" y2="363.6975" stroke="#4a6388" stroke-width="1.1"/>
<line x1="196.2" y1="358.26" x2="196.2" y2="364.78499999999997" stroke="#4a6388" stroke-width="1.1"/>
<line x1="193.39999999999998" y1="358.26" x2="199.0" y2="358.26" stroke="#4a6388" stroke-width="1.1"/>
<line x1="193.39999999999998" y1="364.78499999999997" x2="199.0" y2="364.78499999999997" stroke="#4a6388" stroke-width="1.1"/>
<line x1="230.2" y1="318.4575" x2="230.2" y2="322.8075" stroke="#4a6388" stroke-width="1.1"/>
<line x1="227.39999999999998" y1="318.4575" x2="233.0" y2="318.4575" stroke="#4a6388" stroke-width="1.1"/>
<line x1="227.39999999999998" y1="322.8075" x2="233.0" y2="322.8075" stroke="#4a6388" stroke-width="1.1"/>
<line x1="263" y1="321.9375" x2="263" y2="330.63750000000005" stroke="#4a6388" stroke-width="1.1"/>
<line x1="260.2" y1="321.9375" x2="265.8" y2="321.9375" stroke="#4a6388" stroke-width="1.1"/>
<line x1="260.2" y1="330.63750000000005" x2="265.8" y2="330.63750000000005" stroke="#4a6388" stroke-width="1.1"/>
<line x1="288.7" y1="323.6775" x2="288.7" y2="330.2025" stroke="#4a6388" stroke-width="1.1"/>
<line x1="285.9" y1="323.6775" x2="291.5" y2="323.6775" stroke="#4a6388" stroke-width="1.1"/>
<line x1="285.9" y1="330.2025" x2="291.5" y2="330.2025" stroke="#4a6388" stroke-width="1.1"/>
<circle cx="98.1" cy="364.35" r="3.0" fill="#4a6388"/>
<circle cx="131" cy="360.6525" r="3.0" fill="#4a6388"/>
<circle cx="163.6" cy="360.435" r="3.0" fill="#4a6388"/>
<circle cx="196.2" cy="361.5225" r="3.0" fill="#4a6388"/>
<circle cx="230.2" cy="320.6325" r="3.0" fill="#4a6388"/>
<circle cx="263" cy="326.2875" r="3.0" fill="#4a6388"/>
<circle cx="288.7" cy="326.94" r="3.0" fill="#4a6388"/>
<polyline points="98.1,357.0 131.0,355.2 163.6,354.6 196.2,355.9 230.2,315.4 263.0,319.1 288.7,321.9" fill="none" stroke="#6b4a6e" stroke-width="1.8" stroke-linejoin="round"/>
<line x1="98.1" y1="353.6925" x2="98.1" y2="360.2175" stroke="#6b4a6e" stroke-width="1.1"/>
<line x1="95.3" y1="353.6925" x2="100.89999999999999" y2="353.6925" stroke="#6b4a6e" stroke-width="1.1"/>
<line x1="95.3" y1="360.2175" x2="100.89999999999999" y2="360.2175" stroke="#6b4a6e" stroke-width="1.1"/>
<line x1="131" y1="351.9525" x2="131" y2="358.47749999999996" stroke="#6b4a6e" stroke-width="1.1"/>
<line x1="128.2" y1="351.9525" x2="133.8" y2="351.9525" stroke="#6b4a6e" stroke-width="1.1"/>
<line x1="128.2" y1="358.47749999999996" x2="133.8" y2="358.47749999999996" stroke="#6b4a6e" stroke-width="1.1"/>
<line x1="163.6" y1="351.3" x2="163.6" y2="357.825" stroke="#6b4a6e" stroke-width="1.1"/>
<line x1="160.79999999999998" y1="351.3" x2="166.4" y2="351.3" stroke="#6b4a6e" stroke-width="1.1"/>
<line x1="160.79999999999998" y1="357.825" x2="166.4" y2="357.825" stroke="#6b4a6e" stroke-width="1.1"/>
<line x1="196.2" y1="353.6925" x2="196.2" y2="358.0425" stroke="#6b4a6e" stroke-width="1.1"/>
<line x1="193.39999999999998" y1="353.6925" x2="199.0" y2="353.6925" stroke="#6b4a6e" stroke-width="1.1"/>
<line x1="193.39999999999998" y1="358.0425" x2="199.0" y2="358.0425" stroke="#6b4a6e" stroke-width="1.1"/>
<line x1="230.2" y1="312.15000000000003" x2="230.2" y2="318.675" stroke="#6b4a6e" stroke-width="1.1"/>
<line x1="227.39999999999998" y1="312.15000000000003" x2="233.0" y2="312.15000000000003" stroke="#6b4a6e" stroke-width="1.1"/>
<line x1="227.39999999999998" y1="318.675" x2="233.0" y2="318.675" stroke="#6b4a6e" stroke-width="1.1"/>
<line x1="263" y1="315.8475" x2="263" y2="322.3725" stroke="#6b4a6e" stroke-width="1.1"/>
<line x1="260.2" y1="315.8475" x2="265.8" y2="315.8475" stroke="#6b4a6e" stroke-width="1.1"/>
<line x1="260.2" y1="322.3725" x2="265.8" y2="322.3725" stroke="#6b4a6e" stroke-width="1.1"/>
<line x1="288.7" y1="319.7625" x2="288.7" y2="324.1125" stroke="#6b4a6e" stroke-width="1.1"/>
<line x1="285.9" y1="319.7625" x2="291.5" y2="319.7625" stroke="#6b4a6e" stroke-width="1.1"/>
<line x1="285.9" y1="324.1125" x2="291.5" y2="324.1125" stroke="#6b4a6e" stroke-width="1.1"/>
<polygon points="94.89999999999999,354.395 101.3,354.395 98.1,360.155" fill="#6b4a6e"/>
<polygon points="127.8,352.655 134.2,352.655 131,358.41499999999996" fill="#6b4a6e"/>
<polygon points="160.4,352.0025 166.79999999999998,352.0025 163.6,357.7625" fill="#6b4a6e"/>
<polygon points="193.0,353.3075 199.39999999999998,353.3075 196.2,359.0675" fill="#6b4a6e"/>
<polygon points="227.0,312.8525 233.39999999999998,312.8525 230.2,318.6125" fill="#6b4a6e"/>
<polygon points="259.8,316.55 266.2,316.55 263,322.31" fill="#6b4a6e"/>
<polygon points="285.5,319.3775 291.9,319.3775 288.7,325.1375" fill="#6b4a6e"/>
<polyline points="98.1,358.3 131.0,356.5 163.6,355.9 196.2,356.7 230.2,314.3 263.0,320.6 288.7,323.0" fill="none" stroke="#74a65c" stroke-width="1.8" stroke-linejoin="round"/>
<line x1="98.1" y1="356.085" x2="98.1" y2="360.435" stroke="#74a65c" stroke-width="1.1"/>
<line x1="95.3" y1="356.085" x2="100.89999999999999" y2="356.085" stroke="#74a65c" stroke-width="1.1"/>
<line x1="95.3" y1="360.435" x2="100.89999999999999" y2="360.435" stroke="#74a65c" stroke-width="1.1"/>
<line x1="131" y1="354.34499999999997" x2="131" y2="358.695" stroke="#74a65c" stroke-width="1.1"/>
<line x1="128.2" y1="354.34499999999997" x2="133.8" y2="354.34499999999997" stroke="#74a65c" stroke-width="1.1"/>
<line x1="128.2" y1="358.695" x2="133.8" y2="358.695" stroke="#74a65c" stroke-width="1.1"/>
<line x1="163.6" y1="353.6925" x2="163.6" y2="358.0425" stroke="#74a65c" stroke-width="1.1"/>
<line x1="160.79999999999998" y1="353.6925" x2="166.4" y2="353.6925" stroke="#74a65c" stroke-width="1.1"/>
<line x1="160.79999999999998" y1="358.0425" x2="166.4" y2="358.0425" stroke="#74a65c" stroke-width="1.1"/>
<line x1="196.2" y1="354.5625" x2="196.2" y2="358.9125" stroke="#74a65c" stroke-width="1.1"/>
<line x1="193.39999999999998" y1="354.5625" x2="199.0" y2="354.5625" stroke="#74a65c" stroke-width="1.1"/>
<line x1="193.39999999999998" y1="358.9125" x2="199.0" y2="358.9125" stroke="#74a65c" stroke-width="1.1"/>
<line x1="230.2" y1="312.15" x2="230.2" y2="316.5" stroke="#74a65c" stroke-width="1.1"/>
<line x1="227.39999999999998" y1="312.15" x2="233.0" y2="312.15" stroke="#74a65c" stroke-width="1.1"/>
<line x1="227.39999999999998" y1="316.5" x2="233.0" y2="316.5" stroke="#74a65c" stroke-width="1.1"/>
<line x1="263" y1="318.4575" x2="263" y2="322.8075" stroke="#74a65c" stroke-width="1.1"/>
<line x1="260.2" y1="318.4575" x2="265.8" y2="318.4575" stroke="#74a65c" stroke-width="1.1"/>
<line x1="260.2" y1="322.8075" x2="265.8" y2="322.8075" stroke="#74a65c" stroke-width="1.1"/>
<line x1="288.7" y1="320.84999999999997" x2="288.7" y2="325.2" stroke="#74a65c" stroke-width="1.1"/>
<line x1="285.9" y1="320.84999999999997" x2="291.5" y2="320.84999999999997" stroke="#74a65c" stroke-width="1.1"/>
<line x1="285.9" y1="325.2" x2="291.5" y2="325.2" stroke="#74a65c" stroke-width="1.1"/>
<polygon points="94.89999999999999,360.82 101.3,360.82 98.1,355.06" fill="#74a65c"/>
<polygon points="127.8,359.08 134.2,359.08 131,353.32" fill="#74a65c"/>
<polygon points="160.4,358.4275 166.79999999999998,358.4275 163.6,352.6675" fill="#74a65c"/>
<polygon points="193.0,359.2975 199.39999999999998,359.2975 196.2,353.5375" fill="#74a65c"/>
<polygon points="227.0,316.885 233.39999999999998,316.885 230.2,311.125" fill="#74a65c"/>
<polygon points="259.8,323.1925 266.2,323.1925 263,317.4325" fill="#74a65c"/>
<polygon points="285.5,325.585 291.9,325.585 288.7,319.825" fill="#74a65c"/>
<polyline points="98.1,354.6 131.0,352.6 163.6,350.0 196.2,352.4 230.2,310.0 263.0,316.3 288.7,317.2" fill="none" stroke="#d6943c" stroke-width="1.8" stroke-linejoin="round"/>
<line x1="98.1" y1="351.3" x2="98.1" y2="357.825" stroke="#d6943c" stroke-width="1.1"/>
<line x1="95.3" y1="351.3" x2="100.89999999999999" y2="351.3" stroke="#d6943c" stroke-width="1.1"/>
<line x1="95.3" y1="357.825" x2="100.89999999999999" y2="357.825" stroke="#d6943c" stroke-width="1.1"/>
<line x1="131" y1="349.34250000000003" x2="131" y2="355.8675" stroke="#d6943c" stroke-width="1.1"/>
<line x1="128.2" y1="349.34250000000003" x2="133.8" y2="349.34250000000003" stroke="#d6943c" stroke-width="1.1"/>
<line x1="128.2" y1="355.8675" x2="133.8" y2="355.8675" stroke="#d6943c" stroke-width="1.1"/>
<line x1="163.6" y1="346.7325" x2="163.6" y2="353.2575" stroke="#d6943c" stroke-width="1.1"/>
<line x1="160.79999999999998" y1="346.7325" x2="166.4" y2="346.7325" stroke="#d6943c" stroke-width="1.1"/>
<line x1="160.79999999999998" y1="353.2575" x2="166.4" y2="353.2575" stroke="#d6943c" stroke-width="1.1"/>
<line x1="196.2" y1="350.2125" x2="196.2" y2="354.5625" stroke="#d6943c" stroke-width="1.1"/>
<line x1="193.39999999999998" y1="350.2125" x2="199.0" y2="350.2125" stroke="#d6943c" stroke-width="1.1"/>
<line x1="193.39999999999998" y1="354.5625" x2="199.0" y2="354.5625" stroke="#d6943c" stroke-width="1.1"/>
<line x1="230.2" y1="305.625" x2="230.2" y2="314.32500000000005" stroke="#d6943c" stroke-width="1.1"/>
<line x1="227.39999999999998" y1="305.625" x2="233.0" y2="305.625" stroke="#d6943c" stroke-width="1.1"/>
<line x1="227.39999999999998" y1="314.32500000000005" x2="233.0" y2="314.32500000000005" stroke="#d6943c" stroke-width="1.1"/>
<line x1="263" y1="311.9325" x2="263" y2="320.63250000000005" stroke="#d6943c" stroke-width="1.1"/>
<line x1="260.2" y1="311.9325" x2="265.8" y2="311.9325" stroke="#d6943c" stroke-width="1.1"/>
<line x1="260.2" y1="320.63250000000005" x2="265.8" y2="320.63250000000005" stroke="#d6943c" stroke-width="1.1"/>
<line x1="288.7" y1="312.80249999999995" x2="288.7" y2="321.5025" stroke="#d6943c" stroke-width="1.1"/>
<line x1="285.9" y1="312.80249999999995" x2="291.5" y2="312.80249999999995" stroke="#d6943c" stroke-width="1.1"/>
<line x1="285.9" y1="321.5025" x2="291.5" y2="321.5025" stroke="#d6943c" stroke-width="1.1"/>
<polygon points="98.1,351.2625 101.39999999999999,354.5625 98.1,357.8625 94.8,354.5625" fill="#d6943c"/>
<polygon points="131,349.305 134.3,352.605 131,355.90500000000003 127.7,352.605" fill="#d6943c"/>
<polygon points="163.6,346.695 166.9,349.995 163.6,353.295 160.29999999999998,349.995" fill="#d6943c"/>
<polygon points="196.2,349.0875 199.5,352.3875 196.2,355.6875 192.89999999999998,352.3875" fill="#d6943c"/>
<polygon points="230.2,306.675 233.5,309.975 230.2,313.27500000000003 226.89999999999998,309.975" fill="#d6943c"/>
<polygon points="263,312.9825 266.3,316.2825 263,319.58250000000004 259.7,316.2825" fill="#d6943c"/>
<polygon points="288.7,313.85249999999996 292.0,317.1525 288.7,320.4525 285.4,317.1525" fill="#d6943c"/>
<text x="310" y="278.5" font-size="16" text-anchor="start">D</text>
<rect x="391.5" y="330.2" width="17.3" height="81.9" fill="#4a6388" stroke="#3c516f" stroke-width="0.8"/>
<line x1="400.15" y1="328.016" x2="400.15" y2="329.78000000000003" stroke="#111" stroke-width="1.3"/>
<line x1="396.15" y1="328.016" x2="404.15" y2="328.016" stroke="#111" stroke-width="1.3"/>
<rect x="415.29999999999995" y="390.0" width="16.7" height="22.1" fill="#a33346" stroke="#852939" stroke-width="0.8"/>
<line x1="423.65" y1="388.776" x2="423.65" y2="389.56" stroke="#111" stroke-width="1.3"/>
<line x1="419.65" y1="388.776" x2="427.65" y2="388.776" stroke="#111" stroke-width="1.3"/>
<rect x="438.79999999999995" y="322.3" width="17.0" height="89.8" fill="#74a65c" stroke="#5f884b" stroke-width="0.8"/>
<line x1="447.29999999999995" y1="319.0" x2="447.29999999999995" y2="321.94000000000005" stroke="#111" stroke-width="1.3"/>
<line x1="443.29999999999995" y1="319.0" x2="451.29999999999995" y2="319.0" stroke="#111" stroke-width="1.3"/>
<rect x="462.59999999999997" y="324.3" width="16.8" height="87.8" fill="#6b4a6e" stroke="#573c5a" stroke-width="0.8"/>
<line x1="471.0" y1="320.96000000000004" x2="471.0" y2="323.90000000000003" stroke="#111" stroke-width="1.3"/>
<line x1="467.0" y1="320.96000000000004" x2="475.0" y2="320.96000000000004" stroke="#111" stroke-width="1.3"/>
<rect x="486.29999999999995" y="319.4" width="16.7" height="92.7" fill="#d6943c" stroke="#af7931" stroke-width="0.8"/>
<line x1="494.65" y1="314.492" x2="494.65" y2="319.0" stroke="#111" stroke-width="1.3"/>
<line x1="490.65" y1="314.492" x2="498.65" y2="314.492" stroke="#111" stroke-width="1.3"/>
<line x1="388.4" y1="291" x2="388.4" y2="412.70000000000005" stroke="#111" stroke-width="1.5"/>
<line x1="383.09999999999997" y1="412.1" x2="388.4" y2="412.1" stroke="#111" stroke-width="1.2"/>
<text x="379.2" y="415.90000000000003" font-size="11.8" text-anchor="end" textLength="6.1" lengthAdjust="spacingAndGlyphs">0</text>
<line x1="383.09999999999997" y1="372.90000000000003" x2="388.4" y2="372.90000000000003" stroke="#111" stroke-width="1.2"/>
<text x="379.2" y="376.70000000000005" font-size="11.8" text-anchor="end" textLength="12.2" lengthAdjust="spacingAndGlyphs">20</text>
<line x1="383.09999999999997" y1="333.70000000000005" x2="388.4" y2="333.70000000000005" stroke="#111" stroke-width="1.2"/>
<text x="379.2" y="337.50000000000006" font-size="11.8" text-anchor="end" textLength="12.2" lengthAdjust="spacingAndGlyphs">40</text>
<line x1="383.09999999999997" y1="294.5" x2="388.4" y2="294.5" stroke="#111" stroke-width="1.2"/>
<text x="379.2" y="298.3" font-size="11.8" text-anchor="end" textLength="12.2" lengthAdjust="spacingAndGlyphs">60</text>
<line x1="385.9" y1="392.5" x2="388.4" y2="392.5" stroke="#111" stroke-width="1.2"/>
<line x1="385.9" y1="353.3" x2="388.4" y2="353.3" stroke="#111" stroke-width="1.2"/>
<line x1="385.9" y1="314.1" x2="388.4" y2="314.1" stroke="#111" stroke-width="1.2"/>
<line x1="387.6" y1="412.1" x2="506.4" y2="412.1" stroke="#111" stroke-width="1.5"/>
<line x1="400.15" y1="412.1" x2="400.15" y2="416.6" stroke="#111" stroke-width="1.2"/>
<text x="407.54999999999995" y="426.8" font-size="12.3" text-anchor="end" transform="rotate(-45 407.54999999999995 426.8)" textLength="33" lengthAdjust="spacingAndGlyphs">DMSO</text>
<line x1="423.65" y1="412.1" x2="423.65" y2="416.6" stroke="#111" stroke-width="1.2"/>
<text x="431.04999999999995" y="426.8" font-size="12.3" text-anchor="end" transform="rotate(-45 431.04999999999995 426.8)" textLength="47" lengthAdjust="spacingAndGlyphs">Dasatinib</text>
<line x1="447.29999999999995" y1="412.1" x2="447.29999999999995" y2="416.6" stroke="#111" stroke-width="1.2"/>
<text x="454.69999999999993" y="426.8" font-size="12.3" text-anchor="end" transform="rotate(-45 454.69999999999993 426.8)" textLength="59.5" lengthAdjust="spacingAndGlyphs">8,11,14-ETA</text>
<line x1="471.0" y1="412.1" x2="471.0" y2="416.6" stroke="#111" stroke-width="1.2"/>
<text x="478.4" y="426.8" font-size="12.3" text-anchor="end" transform="rotate(-45 478.4 426.8)" textLength="37.1" lengthAdjust="spacingAndGlyphs">2-TEDC</text>
<line x1="494.65" y1="412.1" x2="494.65" y2="416.6" stroke="#111" stroke-width="1.2"/>
<text x="502.04999999999995" y="426.8" font-size="12.3" text-anchor="end" transform="rotate(-45 502.04999999999995 426.8)" textLength="19.3" lengthAdjust="spacingAndGlyphs">ASA</text>
<text x="423.8" y="389.5" font-size="10" text-anchor="middle">*</text>
<text x="340.6" y="351.3" font-size="15" text-anchor="middle" transform="rotate(-90 340.6 351.3)" textLength="90.6" lengthAdjust="spacingAndGlyphs">Post-CVX ECAR</text>
<text x="356.3" y="410.6" font-size="14" transform="rotate(-90 356.3 410.6)" textLength="82.7" lengthAdjust="spacingAndGlyphs">(mpH/min/10</text>
<text x="351.1" y="326.7" font-size="10" transform="rotate(-90 351.1 326.7)">7</text>
<text x="356.3" y="321.7" font-size="14" transform="rotate(-90 356.3 321.7)" textLength="29.6" lengthAdjust="spacingAndGlyphs">PLTs)</text>
<text x="14.6" y="506.3" font-size="16" text-anchor="start">E</text>
<line x1="92" y1="518" x2="92" y2="653.9" stroke="#111" stroke-width="1.5"/>
<line x1="86.7" y1="653.3" x2="92" y2="653.3" stroke="#111" stroke-width="1.2"/>
<text x="82.6" y="657.0999999999999" font-size="11.8" text-anchor="end" textLength="6.1" lengthAdjust="spacingAndGlyphs">0</text>
<line x1="86.7" y1="620.5" x2="92" y2="620.5" stroke="#111" stroke-width="1.2"/>
<text x="82.6" y="624.3" font-size="11.8" text-anchor="end" textLength="12.2" lengthAdjust="spacingAndGlyphs">20</text>
<line x1="86.7" y1="587.6999999999999" x2="92" y2="587.6999999999999" stroke="#111" stroke-width="1.2"/>
<text x="82.6" y="591.4999999999999" font-size="11.8" text-anchor="end" textLength="12.2" lengthAdjust="spacingAndGlyphs">40</text>
<line x1="86.7" y1="554.9" x2="92" y2="554.9" stroke="#111" stroke-width="1.2"/>
<text x="82.6" y="558.6999999999999" font-size="11.8" text-anchor="end" textLength="12.2" lengthAdjust="spacingAndGlyphs">60</text>
<line x1="86.7" y1="522.0999999999999" x2="92" y2="522.0999999999999" stroke="#111" stroke-width="1.2"/>
<text x="82.6" y="525.8999999999999" font-size="11.8" text-anchor="end" textLength="12.2" lengthAdjust="spacingAndGlyphs">80</text>
<line x1="89.5" y1="636.9" x2="92" y2="636.9" stroke="#111" stroke-width="1.2"/>
<line x1="89.5" y1="604.0999999999999" x2="92" y2="604.0999999999999" stroke="#111" stroke-width="1.2"/>
<line x1="89.5" y1="571.3" x2="92" y2="571.3" stroke="#111" stroke-width="1.2"/>
<line x1="89.5" y1="538.5" x2="92" y2="538.5" stroke="#111" stroke-width="1.2"/>
<line x1="91.25" y1="653.3" x2="291" y2="653.3" stroke="#111" stroke-width="1.5"/>
<line x1="92.0" y1="653.3" x2="92.0" y2="657.8" stroke="#111" stroke-width="1.2"/>
<text x="92.0" y="673" font-size="10.5" text-anchor="middle">0</text>
<line x1="124.9" y1="653.3" x2="124.9" y2="657.8" stroke="#111" stroke-width="1.2"/>
<text x="124.9" y="673" font-size="10.5" text-anchor="middle">10</text>
<line x1="157.8" y1="653.3" x2="157.8" y2="657.8" stroke="#111" stroke-width="1.2"/>
<text x="157.8" y="673" font-size="10.5" text-anchor="middle">20</text>
<line x1="190.7" y1="653.3" x2="190.7" y2="657.8" stroke="#111" stroke-width="1.2"/>
<text x="190.7" y="673" font-size="10.5" text-anchor="middle">30</text>
<line x1="223.6" y1="653.3" x2="223.6" y2="657.8" stroke="#111" stroke-width="1.2"/>
<text x="223.6" y="673" font-size="10.5" text-anchor="middle">40</text>
<line x1="256.5" y1="653.3" x2="256.5" y2="657.8" stroke="#111" stroke-width="1.2"/>
<text x="256.5" y="673" font-size="10.5" text-anchor="middle">50</text>
<line x1="289.4" y1="653.3" x2="289.4" y2="657.8" stroke="#111" stroke-width="1.2"/>
<text x="289.4" y="673" font-size="10.5" text-anchor="middle">60</text>
<text x="191.8" y="690.7" font-size="11.5" text-anchor="middle">Time (minutes)</text>
<text x="44.1" y="585.7" font-size="15" text-anchor="middle" transform="rotate(-90 44.1 585.7)" textLength="25.3" lengthAdjust="spacingAndGlyphs">OCR</text>
<text x="60.3" y="646.6" font-size="14" transform="rotate(-90 60.3 646.6)" textLength="84.8" lengthAdjust="spacingAndGlyphs">(pmol/min/10</text>
<text x="55.099999999999994" y="560.6" font-size="10" transform="rotate(-90 55.099999999999994 560.6)">7</text>
<text x="60.3" y="555.6" font-size="14" transform="rotate(-90 60.3 555.6)" textLength="30.5" lengthAdjust="spacingAndGlyphs">PLTs)</text>
<text x="205.7" y="530" font-size="11.2" text-anchor="middle" textLength="19.8" lengthAdjust="spacingAndGlyphs">CVX</text>
<line x1="206.5" y1="534.5" x2="206.5" y2="571.4" stroke="#000" stroke-width="1.35"/>
<path d="M201.2,568.1999999999999 Q206.5,573.3199999999999 211.8,568.1999999999999 L206.5,581.8 Z" fill="#000"/>
<line x1="140" y1="549.6" x2="140" y2="572.6" stroke="#000" stroke-width="1.35"/>
<path d="M134.7,569.4 Q140,574.52 145.3,569.4 L140,583 Z" fill="#000"/>
<polyline points="96.2,590.5 118.0,592.5 139.5,591.3 162.0,647.6 184.0,647.6 206.5,647.6 228.5,643.5 250.4,647.6 272.3,648.1 288.7,644.8" fill="none" stroke="#a33346" stroke-width="1.8" stroke-linejoin="round"/>
<line x1="96.25" y1="588.848" x2="96.25" y2="592.1279999999999" stroke="#a33346" stroke-width="1.1"/>
<line x1="93.45" y1="588.848" x2="99.05" y2="588.848" stroke="#a33346" stroke-width="1.1"/>
<line x1="93.45" y1="592.1279999999999" x2="99.05" y2="592.1279999999999" stroke="#a33346" stroke-width="1.1"/>
<line x1="118" y1="590.8159999999999" x2="118" y2="594.0959999999999" stroke="#a33346" stroke-width="1.1"/>
<line x1="115.2" y1="590.8159999999999" x2="120.8" y2="590.8159999999999" stroke="#a33346" stroke-width="1.1"/>
<line x1="115.2" y1="594.0959999999999" x2="120.8" y2="594.0959999999999" stroke="#a33346" stroke-width="1.1"/>
<line x1="139.5" y1="589.668" x2="139.5" y2="592.948" stroke="#a33346" stroke-width="1.1"/>
<line x1="136.7" y1="589.668" x2="142.3" y2="589.668" stroke="#a33346" stroke-width="1.1"/>
<line x1="136.7" y1="592.948" x2="142.3" y2="592.948" stroke="#a33346" stroke-width="1.1"/>
<line x1="162" y1="646.7399999999999" x2="162" y2="648.38" stroke="#a33346" stroke-width="1.1"/>
<line x1="159.2" y1="646.7399999999999" x2="164.8" y2="646.7399999999999" stroke="#a33346" stroke-width="1.1"/>
<line x1="159.2" y1="648.38" x2="164.8" y2="648.38" stroke="#a33346" stroke-width="1.1"/>
<line x1="184" y1="646.7399999999999" x2="184" y2="648.38" stroke="#a33346" stroke-width="1.1"/>
<line x1="181.2" y1="646.7399999999999" x2="186.8" y2="646.7399999999999" stroke="#a33346" stroke-width="1.1"/>
<line x1="181.2" y1="648.38" x2="186.8" y2="648.38" stroke="#a33346" stroke-width="1.1"/>
<line x1="206.5" y1="646.7399999999999" x2="206.5" y2="648.38" stroke="#a33346" stroke-width="1.1"/>
<line x1="203.7" y1="646.7399999999999" x2="209.3" y2="646.7399999999999" stroke="#a33346" stroke-width="1.1"/>
<line x1="203.7" y1="648.38" x2="209.3" y2="648.38" stroke="#a33346" stroke-width="1.1"/>
<line x1="228.5" y1="641.8199999999999" x2="228.5" y2="645.0999999999999" stroke="#a33346" stroke-width="1.1"/>
<line x1="225.7" y1="641.8199999999999" x2="231.3" y2="641.8199999999999" stroke="#a33346" stroke-width="1.1"/>
<line x1="225.7" y1="645.0999999999999" x2="231.3" y2="645.0999999999999" stroke="#a33346" stroke-width="1.1"/>
<line x1="250.4" y1="646.2479999999999" x2="250.4" y2="648.872" stroke="#a33346" stroke-width="1.1"/>
<line x1="247.6" y1="646.2479999999999" x2="253.20000000000002" y2="646.2479999999999" stroke="#a33346" stroke-width="1.1"/>
<line x1="247.6" y1="648.872" x2="253.20000000000002" y2="648.872" stroke="#a33346" stroke-width="1.1"/>
<line x1="272.3" y1="646.7399999999999" x2="272.3" y2="649.3639999999999" stroke="#a33346" stroke-width="1.1"/>
<line x1="269.5" y1="646.7399999999999" x2="275.1" y2="646.7399999999999" stroke="#a33346" stroke-width="1.1"/>
<line x1="269.5" y1="649.3639999999999" x2="275.1" y2="649.3639999999999" stroke="#a33346" stroke-width="1.1"/>
<line x1="288.7" y1="643.132" x2="288.7" y2="646.4119999999999" stroke="#a33346" stroke-width="1.1"/>
<line x1="285.9" y1="643.132" x2="291.5" y2="643.132" stroke="#a33346" stroke-width="1.1"/>
<line x1="285.9" y1="646.4119999999999" x2="291.5" y2="646.4119999999999" stroke="#a33346" stroke-width="1.1"/>
<rect x="93.49" y="587.728" width="5.5200000000000005" height="5.5200000000000005" fill="#a33346"/>
<rect x="115.24" y="589.6959999999999" width="5.5200000000000005" height="5.5200000000000005" fill="#a33346"/>
<rect x="136.74" y="588.548" width="5.5200000000000005" height="5.5200000000000005" fill="#a33346"/>
<rect x="159.24" y="644.8" width="5.5200000000000005" height="5.5200000000000005" fill="#a33346"/>
<rect x="181.24" y="644.8" width="5.5200000000000005" height="5.5200000000000005" fill="#a33346"/>
<rect x="203.74" y="644.8" width="5.5200000000000005" height="5.5200000000000005" fill="#a33346"/>
<rect x="225.74" y="640.6999999999999" width="5.5200000000000005" height="5.5200000000000005" fill="#a33346"/>
<rect x="247.64000000000001" y="644.8" width="5.5200000000000005" height="5.5200000000000005" fill="#a33346"/>
<rect x="269.54" y="645.2919999999999" width="5.5200000000000005" height="5.5200000000000005" fill="#a33346"/>
<rect x="285.94" y="642.012" width="5.5200000000000005" height="5.5200000000000005" fill="#a33346"/>
<polyline points="96.2,585.6 118.0,588.2 139.5,585.6 162.0,589.2 184.0,586.9 206.5,586.9 228.5,554.1 250.4,558.2 272.3,558.2 288.7,553.3" fill="none" stroke="#4a6388" stroke-width="1.8" stroke-linejoin="round"/>
<line x1="228.5" y1="549.16" x2="228.5" y2="558.9999999999999" stroke="#4a6388" stroke-width="1.1"/>
<line x1="225.7" y1="549.16" x2="231.3" y2="549.16" stroke="#4a6388" stroke-width="1.1"/>
<line x1="225.7" y1="558.9999999999999" x2="231.3" y2="558.9999999999999" stroke="#4a6388" stroke-width="1.1"/>
<line x1="250.4" y1="552.7679999999999" x2="250.4" y2="563.592" stroke="#4a6388" stroke-width="1.1"/>
<line x1="247.6" y1="552.7679999999999" x2="253.20000000000002" y2="552.7679999999999" stroke="#4a6388" stroke-width="1.1"/>
<line x1="247.6" y1="563.592" x2="253.20000000000002" y2="563.592" stroke="#4a6388" stroke-width="1.1"/>
<line x1="272.3" y1="553.9159999999999" x2="272.3" y2="562.444" stroke="#4a6388" stroke-width="1.1"/>
<line x1="269.5" y1="553.9159999999999" x2="275.1" y2="553.9159999999999" stroke="#4a6388" stroke-width="1.1"/>
<line x1="269.5" y1="562.444" x2="275.1" y2="562.444" stroke="#4a6388" stroke-width="1.1"/>
<line x1="288.7" y1="547.52" x2="288.7" y2="559.0" stroke="#4a6388" stroke-width="1.1"/>
<line x1="285.9" y1="547.52" x2="291.5" y2="547.52" stroke="#4a6388" stroke-width="1.1"/>
<line x1="285.9" y1="559.0" x2="291.5" y2="559.0" stroke="#4a6388" stroke-width="1.1"/>
<circle cx="96.25" cy="585.568" r="2.7600000000000002" fill="#4a6388"/>
<circle cx="118" cy="588.192" r="2.7600000000000002" fill="#4a6388"/>
<circle cx="139.5" cy="585.568" r="2.7600000000000002" fill="#4a6388"/>
<circle cx="162" cy="589.1759999999999" r="2.7600000000000002" fill="#4a6388"/>
<circle cx="184" cy="586.88" r="2.7600000000000002" fill="#4a6388"/>
<circle cx="206.5" cy="586.88" r="2.7600000000000002" fill="#4a6388"/>
<circle cx="228.5" cy="554.0799999999999" r="2.7600000000000002" fill="#4a6388"/>
<circle cx="250.4" cy="558.18" r="2.7600000000000002" fill="#4a6388"/>
<circle cx="272.3" cy="558.18" r="2.7600000000000002" fill="#4a6388"/>
<circle cx="288.7" cy="553.26" r="2.7600000000000002" fill="#4a6388"/>
<circle cx="119.5" cy="524.5" r="3.0" fill="#4a6388"/>
<text x="127.5" y="528.5" font-size="11.8" text-anchor="start" textLength="29.8" lengthAdjust="spacingAndGlyphs">DMSO</text>
<rect x="116.5" y="539.0" width="6.0" height="6.0" fill="#a33346"/>
<text x="127.5" y="546" font-size="11.8" text-anchor="start" textLength="41" lengthAdjust="spacingAndGlyphs">AA &amp; Rot</text>
<text x="327.7" y="514.6" font-size="16" text-anchor="start">F</text>
<rect x="395.09999999999997" y="541.7" width="27.5" height="111.8" fill="#4a6388" stroke="#3c516f" stroke-width="0.8"/>
<line x1="408.85" y1="534.682" x2="408.85" y2="541.324" stroke="#111" stroke-width="1.3"/>
<line x1="402.05" y1="534.682" x2="415.65000000000003" y2="534.682" stroke="#111" stroke-width="1.3"/>
<rect x="436.0" y="635.7" width="27.7" height="17.8" fill="#a33346" stroke="#852939" stroke-width="0.8"/>
<line x1="449.85" y1="620.782" x2="449.85" y2="635.296" stroke="#111" stroke-width="1.3"/>
<line x1="443.05" y1="620.782" x2="456.65000000000003" y2="620.782" stroke="#111" stroke-width="1.3"/>
<line x1="388.4" y1="526.4" x2="388.4" y2="654.1" stroke="#111" stroke-width="1.5"/>
<line x1="383.09999999999997" y1="653.5" x2="388.4" y2="653.5" stroke="#111" stroke-width="1.2"/>
<text x="379.2" y="657.3" font-size="11.8" text-anchor="end" textLength="6.1" lengthAdjust="spacingAndGlyphs">0</text>
<line x1="383.09999999999997" y1="628.9" x2="388.4" y2="628.9" stroke="#111" stroke-width="1.2"/>
<text x="379.2" y="632.6999999999999" font-size="11.8" text-anchor="end" textLength="12.2" lengthAdjust="spacingAndGlyphs">10</text>
<line x1="383.09999999999997" y1="604.3" x2="388.4" y2="604.3" stroke="#111" stroke-width="1.2"/>
<text x="379.2" y="608.0999999999999" font-size="11.8" text-anchor="end" textLength="12.2" lengthAdjust="spacingAndGlyphs">20</text>
<line x1="383.09999999999997" y1="579.7" x2="388.4" y2="579.7" stroke="#111" stroke-width="1.2"/>
<text x="379.2" y="583.5" font-size="11.8" text-anchor="end" textLength="12.2" lengthAdjust="spacingAndGlyphs">30</text>
<line x1="383.09999999999997" y1="555.1" x2="388.4" y2="555.1" stroke="#111" stroke-width="1.2"/>
<text x="379.2" y="558.9" font-size="11.8" text-anchor="end" textLength="12.2" lengthAdjust="spacingAndGlyphs">40</text>
<line x1="383.09999999999997" y1="530.5" x2="388.4" y2="530.5" stroke="#111" stroke-width="1.2"/>
<text x="379.2" y="534.3" font-size="11.8" text-anchor="end" textLength="12.2" lengthAdjust="spacingAndGlyphs">50</text>
<line x1="385.9" y1="641.2" x2="388.4" y2="641.2" stroke="#111" stroke-width="1.2"/>
<line x1="385.9" y1="616.6" x2="388.4" y2="616.6" stroke="#111" stroke-width="1.2"/>
<line x1="385.9" y1="592.0" x2="388.4" y2="592.0" stroke="#111" stroke-width="1.2"/>
<line x1="385.9" y1="567.4" x2="388.4" y2="567.4" stroke="#111" stroke-width="1.2"/>
<line x1="385.9" y1="542.8" x2="388.4" y2="542.8" stroke="#111" stroke-width="1.2"/>
<line x1="387.6" y1="653.5" x2="471" y2="653.5" stroke="#111" stroke-width="1.5"/>
<line x1="408.85" y1="653.5" x2="408.85" y2="658.0" stroke="#111" stroke-width="1.2"/>
<text x="416.25" y="668.1999999999999" font-size="12.3" text-anchor="end" transform="rotate(-45 416.25 668.1999999999999)" textLength="33" lengthAdjust="spacingAndGlyphs">DMSO</text>
<line x1="449.85" y1="653.5" x2="449.85" y2="658.0" stroke="#111" stroke-width="1.2"/>
<text x="457.25" y="668.1999999999999" font-size="12.3" text-anchor="end" transform="rotate(-45 457.25 668.1999999999999)" textLength="43.5" lengthAdjust="spacingAndGlyphs">AA &amp; Rot</text>
<text x="450" y="621" font-size="10" text-anchor="middle">*</text>
<text x="356.2" y="589.9" font-size="14" text-anchor="middle" transform="rotate(-90 356.2 589.9)" textLength="160.6" lengthAdjust="spacingAndGlyphs">Post-CVX OCR (% increase)</text>
<text x="12.8" y="733" font-size="16" text-anchor="start">G</text>
<line x1="92" y1="745" x2="92" y2="881.3000000000001" stroke="#111" stroke-width="1.5"/>
<line x1="86.7" y1="880.7" x2="92" y2="880.7" stroke="#111" stroke-width="1.2"/>
<text x="82.6" y="884.5" font-size="11.8" text-anchor="end" textLength="6.1" lengthAdjust="spacingAndGlyphs">0</text>
<line x1="86.7" y1="847.8000000000001" x2="92" y2="847.8000000000001" stroke="#111" stroke-width="1.2"/>
<text x="82.6" y="851.6" font-size="11.8" text-anchor="end" textLength="12.2" lengthAdjust="spacingAndGlyphs">20</text>
<line x1="86.7" y1="814.9000000000001" x2="92" y2="814.9000000000001" stroke="#111" stroke-width="1.2"/>
<text x="82.6" y="818.7" font-size="11.8" text-anchor="end" textLength="12.2" lengthAdjust="spacingAndGlyphs">40</text>
<line x1="86.7" y1="782.0" x2="92" y2="782.0" stroke="#111" stroke-width="1.2"/>
<text x="82.6" y="785.8" font-size="11.8" text-anchor="end" textLength="12.2" lengthAdjust="spacingAndGlyphs">60</text>
<line x1="86.7" y1="749.1" x2="92" y2="749.1" stroke="#111" stroke-width="1.2"/>
<text x="82.6" y="752.9" font-size="11.8" text-anchor="end" textLength="12.2" lengthAdjust="spacingAndGlyphs">80</text>
<line x1="89.5" y1="864.25" x2="92" y2="864.25" stroke="#111" stroke-width="1.2"/>
<line x1="89.5" y1="831.35" x2="92" y2="831.35" stroke="#111" stroke-width="1.2"/>
<line x1="89.5" y1="798.45" x2="92" y2="798.45" stroke="#111" stroke-width="1.2"/>
<line x1="89.5" y1="765.5500000000001" x2="92" y2="765.5500000000001" stroke="#111" stroke-width="1.2"/>
<line x1="91.25" y1="880.7" x2="291" y2="880.7" stroke="#111" stroke-width="1.5"/>
<line x1="92.0" y1="880.7" x2="92.0" y2="885.2" stroke="#111" stroke-width="1.2"/>
<text x="92.0" y="900" font-size="10.5" text-anchor="middle">0</text>
<line x1="124.9" y1="880.7" x2="124.9" y2="885.2" stroke="#111" stroke-width="1.2"/>
<text x="124.9" y="900" font-size="10.5" text-anchor="middle">10</text>
<line x1="157.8" y1="880.7" x2="157.8" y2="885.2" stroke="#111" stroke-width="1.2"/>
<text x="157.8" y="900" font-size="10.5" text-anchor="middle">20</text>
<line x1="190.7" y1="880.7" x2="190.7" y2="885.2" stroke="#111" stroke-width="1.2"/>
<text x="190.7" y="900" font-size="10.5" text-anchor="middle">30</text>
<line x1="223.6" y1="880.7" x2="223.6" y2="885.2" stroke="#111" stroke-width="1.2"/>
<text x="223.6" y="900" font-size="10.5" text-anchor="middle">40</text>
<line x1="256.5" y1="880.7" x2="256.5" y2="885.2" stroke="#111" stroke-width="1.2"/>
<text x="256.5" y="900" font-size="10.5" text-anchor="middle">50</text>
<line x1="289.4" y1="880.7" x2="289.4" y2="885.2" stroke="#111" stroke-width="1.2"/>
<text x="289.4" y="900" font-size="10.5" text-anchor="middle">60</text>
<text x="191.8" y="918" font-size="11.5" text-anchor="middle">Time (minutes)</text>
<text x="44.1" y="812.8" font-size="15" text-anchor="middle" transform="rotate(-90 44.1 812.8)" textLength="31.2" lengthAdjust="spacingAndGlyphs">ECAR</text>
<text x="60.3" y="872.9" font-size="14" transform="rotate(-90 60.3 872.9)" textLength="83.3" lengthAdjust="spacingAndGlyphs">(mpH/min/10</text>
<text x="55.099999999999994" y="788.5" font-size="10" transform="rotate(-90 55.099999999999994 788.5)">7</text>
<text x="60.3" y="783.5" font-size="14" transform="rotate(-90 60.3 783.5)" textLength="29.9" lengthAdjust="spacingAndGlyphs">PLTs)</text>
<text x="205.5" y="763.7" font-size="11.2" text-anchor="middle" textLength="19" lengthAdjust="spacingAndGlyphs">CVX</text>
<line x1="206.5" y1="767" x2="206.5" y2="785.3000000000001" stroke="#000" stroke-width="1.35"/>
<path d="M201.2,782.1 Q206.5,787.22 211.8,782.1 L206.5,795.7 Z" fill="#000"/>
<line x1="140.1" y1="782.3" x2="140.1" y2="818.7" stroke="#000" stroke-width="1.35"/>
<path d="M134.79999999999998,815.5 Q140.1,820.62 145.4,815.5 L140.1,829.1 Z" fill="#000"/>
<polyline points="96.2,832.0 118.0,833.8 139.5,834.5 162.0,793.4 184.0,795.3 206.5,798.3 228.5,781.8 250.4,785.3 272.3,786.9 288.7,785.6" fill="none" stroke="#a33346" stroke-width="1.8" stroke-linejoin="round"/>
<line x1="96.25" y1="830.363" x2="96.25" y2="833.653" stroke="#a33346" stroke-width="1.1"/>
<line x1="93.45" y1="830.363" x2="99.05" y2="830.363" stroke="#a33346" stroke-width="1.1"/>
<line x1="93.45" y1="833.653" x2="99.05" y2="833.653" stroke="#a33346" stroke-width="1.1"/>
<line x1="118" y1="832.1725" x2="118" y2="835.4625" stroke="#a33346" stroke-width="1.1"/>
<line x1="115.2" y1="832.1725" x2="120.8" y2="832.1725" stroke="#a33346" stroke-width="1.1"/>
<line x1="115.2" y1="835.4625" x2="120.8" y2="835.4625" stroke="#a33346" stroke-width="1.1"/>
<line x1="139.5" y1="832.8305" x2="139.5" y2="836.1205" stroke="#a33346" stroke-width="1.1"/>
<line x1="136.7" y1="832.8305" x2="142.3" y2="832.8305" stroke="#a33346" stroke-width="1.1"/>
<line x1="136.7" y1="836.1205" x2="142.3" y2="836.1205" stroke="#a33346" stroke-width="1.1"/>
<line x1="162" y1="791.7055" x2="162" y2="794.9955" stroke="#a33346" stroke-width="1.1"/>
<line x1="159.2" y1="791.7055" x2="164.8" y2="791.7055" stroke="#a33346" stroke-width="1.1"/>
<line x1="159.2" y1="794.9955" x2="164.8" y2="794.9955" stroke="#a33346" stroke-width="1.1"/>
<line x1="184" y1="793.6795000000001" x2="184" y2="796.9695" stroke="#a33346" stroke-width="1.1"/>
<line x1="181.2" y1="793.6795000000001" x2="186.8" y2="793.6795000000001" stroke="#a33346" stroke-width="1.1"/>
<line x1="181.2" y1="796.9695" x2="186.8" y2="796.9695" stroke="#a33346" stroke-width="1.1"/>
<line x1="206.5" y1="796.6405000000001" x2="206.5" y2="799.9305" stroke="#a33346" stroke-width="1.1"/>
<line x1="203.7" y1="796.6405000000001" x2="209.3" y2="796.6405000000001" stroke="#a33346" stroke-width="1.1"/>
<line x1="203.7" y1="799.9305" x2="209.3" y2="799.9305" stroke="#a33346" stroke-width="1.1"/>
<line x1="228.5" y1="776.078" x2="228.5" y2="787.5930000000001" stroke="#a33346" stroke-width="1.1"/>
<line x1="225.7" y1="776.078" x2="231.3" y2="776.078" stroke="#a33346" stroke-width="1.1"/>
<line x1="225.7" y1="787.5930000000001" x2="231.3" y2="787.5930000000001" stroke="#a33346" stroke-width="1.1"/>
<line x1="250.4" y1="780.3550000000001" x2="250.4" y2="790.225" stroke="#a33346" stroke-width="1.1"/>
<line x1="247.6" y1="780.3550000000001" x2="253.20000000000002" y2="780.3550000000001" stroke="#a33346" stroke-width="1.1"/>
<line x1="247.6" y1="790.225" x2="253.20000000000002" y2="790.225" stroke="#a33346" stroke-width="1.1"/>
<line x1="272.3" y1="782.0000000000001" x2="272.3" y2="791.87" stroke="#a33346" stroke-width="1.1"/>
<line x1="269.5" y1="782.0000000000001" x2="275.1" y2="782.0000000000001" stroke="#a33346" stroke-width="1.1"/>
<line x1="269.5" y1="791.87" x2="275.1" y2="791.87" stroke="#a33346" stroke-width="1.1"/>
<line x1="288.7" y1="780.6840000000001" x2="288.7" y2="790.554" stroke="#a33346" stroke-width="1.1"/>
<line x1="285.9" y1="780.6840000000001" x2="291.5" y2="780.6840000000001" stroke="#a33346" stroke-width="1.1"/>
<line x1="285.9" y1="790.554" x2="291.5" y2="790.554" stroke="#a33346" stroke-width="1.1"/>
<rect x="93.49" y="829.248" width="5.5200000000000005" height="5.5200000000000005" fill="#a33346"/>
<rect x="115.24" y="831.0575" width="5.5200000000000005" height="5.5200000000000005" fill="#a33346"/>
<rect x="136.74" y="831.7155" width="5.5200000000000005" height="5.5200000000000005" fill="#a33346"/>
<rect x="159.24" y="790.5905" width="5.5200000000000005" height="5.5200000000000005" fill="#a33346"/>
<rect x="181.24" y="792.5645000000001" width="5.5200000000000005" height="5.5200000000000005" fill="#a33346"/>
<rect x="203.74" y="795.5255000000001" width="5.5200000000000005" height="5.5200000000000005" fill="#a33346"/>
<rect x="225.74" y="779.0755" width="5.5200000000000005" height="5.5200000000000005" fill="#a33346"/>
<rect x="247.64000000000001" y="782.5300000000001" width="5.5200000000000005" height="5.5200000000000005" fill="#a33346"/>
<rect x="269.54" y="784.1750000000001" width="5.5200000000000005" height="5.5200000000000005" fill="#a33346"/>
<rect x="285.94" y="782.859" width="5.5200000000000005" height="5.5200000000000005" fill="#a33346"/>
<polyline points="96.2,829.2 118.0,830.5 139.5,832.5 162.0,837.9 184.0,836.6 206.5,836.6 228.5,808.3 250.4,814.1 272.3,816.7 288.7,818.2" fill="none" stroke="#4a6388" stroke-width="1.8" stroke-linejoin="round"/>
<circle cx="96.25" cy="829.2115" r="2.7600000000000002" fill="#4a6388"/>
<circle cx="118" cy="830.5275" r="2.7600000000000002" fill="#4a6388"/>
<circle cx="139.5" cy="832.5015000000001" r="2.7600000000000002" fill="#4a6388"/>
<circle cx="162" cy="837.9300000000001" r="2.7600000000000002" fill="#4a6388"/>
<circle cx="184" cy="836.614" r="2.7600000000000002" fill="#4a6388"/>
<circle cx="206.5" cy="836.614" r="2.7600000000000002" fill="#4a6388"/>
<circle cx="228.5" cy="808.32" r="2.7600000000000002" fill="#4a6388"/>
<circle cx="250.4" cy="814.0775000000001" r="2.7600000000000002" fill="#4a6388"/>
<circle cx="272.3" cy="816.7095" r="2.7600000000000002" fill="#4a6388"/>
<circle cx="288.7" cy="818.19" r="2.7600000000000002" fill="#4a6388"/>
<circle cx="119.5" cy="755.75" r="3.0" fill="#4a6388"/>
<text x="127.5" y="759.75" font-size="11.8" text-anchor="start" textLength="29.8" lengthAdjust="spacingAndGlyphs">DMSO</text>
<rect x="116.5" y="770.0" width="6.0" height="6.0" fill="#a33346"/>
<text x="127.5" y="777" font-size="11.8" text-anchor="start" textLength="41" lengthAdjust="spacingAndGlyphs">AA &amp; Rot</text>
<text x="325.3" y="742.7" font-size="16" text-anchor="start">H</text>
<rect x="395.09999999999997" y="769.2" width="27.5" height="111.4" fill="#4a6388" stroke="#3c516f" stroke-width="0.8"/>
<line x1="408.85" y1="766.325" x2="408.85" y2="768.775" stroke="#111" stroke-width="1.3"/>
<line x1="402.05" y1="766.325" x2="415.65000000000003" y2="766.325" stroke="#111" stroke-width="1.3"/>
<rect x="436.0" y="847.2" width="27.5" height="33.4" fill="#a33346" stroke="#852939" stroke-width="0.8"/>
<line x1="449.75" y1="834.75" x2="449.75" y2="846.825" stroke="#111" stroke-width="1.3"/>
<line x1="442.95" y1="834.75" x2="456.55" y2="834.75" stroke="#111" stroke-width="1.3"/>
<line x1="388.4" y1="754.8" x2="388.4" y2="881.2" stroke="#111" stroke-width="1.5"/>
<line x1="383.09999999999997" y1="880.6" x2="388.4" y2="880.6" stroke="#111" stroke-width="1.2"/>
<text x="379.2" y="884.4" font-size="11.8" text-anchor="end" textLength="6.1" lengthAdjust="spacingAndGlyphs">0</text>
<line x1="383.09999999999997" y1="863.1" x2="388.4" y2="863.1" stroke="#111" stroke-width="1.2"/>
<text x="379.2" y="866.9" font-size="11.8" text-anchor="end" textLength="12.2" lengthAdjust="spacingAndGlyphs">10</text>
<line x1="383.09999999999997" y1="845.6" x2="388.4" y2="845.6" stroke="#111" stroke-width="1.2"/>
<text x="379.2" y="849.4" font-size="11.8" text-anchor="end" textLength="12.2" lengthAdjust="spacingAndGlyphs">20</text>
<line x1="383.09999999999997" y1="828.1" x2="388.4" y2="828.1" stroke="#111" stroke-width="1.2"/>
<text x="379.2" y="831.9" font-size="11.8" text-anchor="end" textLength="12.2" lengthAdjust="spacingAndGlyphs">30</text>
<line x1="383.09999999999997" y1="810.6" x2="388.4" y2="810.6" stroke="#111" stroke-width="1.2"/>
<text x="379.2" y="814.4" font-size="11.8" text-anchor="end" textLength="12.2" lengthAdjust="spacingAndGlyphs">40</text>
<line x1="383.09999999999997" y1="793.1" x2="388.4" y2="793.1" stroke="#111" stroke-width="1.2"/>
<text x="379.2" y="796.9" font-size="11.8" text-anchor="end" textLength="12.2" lengthAdjust="spacingAndGlyphs">50</text>
<line x1="383.09999999999997" y1="775.6" x2="388.4" y2="775.6" stroke="#111" stroke-width="1.2"/>
<text x="379.2" y="779.4" font-size="11.8" text-anchor="end" textLength="12.2" lengthAdjust="spacingAndGlyphs">60</text>
<line x1="383.09999999999997" y1="758.1" x2="388.4" y2="758.1" stroke="#111" stroke-width="1.2"/>
<text x="379.2" y="761.9" font-size="11.8" text-anchor="end" textLength="12.2" lengthAdjust="spacingAndGlyphs">70</text>
<line x1="385.9" y1="871.85" x2="388.4" y2="871.85" stroke="#111" stroke-width="1.2"/>
<line x1="385.9" y1="854.35" x2="388.4" y2="854.35" stroke="#111" stroke-width="1.2"/>
<line x1="385.9" y1="836.85" x2="388.4" y2="836.85" stroke="#111" stroke-width="1.2"/>
<line x1="385.9" y1="819.35" x2="388.4" y2="819.35" stroke="#111" stroke-width="1.2"/>
<line x1="385.9" y1="801.85" x2="388.4" y2="801.85" stroke="#111" stroke-width="1.2"/>
<line x1="385.9" y1="784.35" x2="388.4" y2="784.35" stroke="#111" stroke-width="1.2"/>
<line x1="385.9" y1="766.85" x2="388.4" y2="766.85" stroke="#111" stroke-width="1.2"/>
<line x1="387.6" y1="880.6" x2="471" y2="880.6" stroke="#111" stroke-width="1.5"/>
<line x1="408.85" y1="880.6" x2="408.85" y2="885.1" stroke="#111" stroke-width="1.2"/>
<text x="416.25" y="895.3" font-size="12.3" text-anchor="end" transform="rotate(-45 416.25 895.3)" textLength="33" lengthAdjust="spacingAndGlyphs">DMSO</text>
<line x1="449.75" y1="880.6" x2="449.75" y2="885.1" stroke="#111" stroke-width="1.2"/>
<text x="457.15" y="895.3" font-size="12.3" text-anchor="end" transform="rotate(-45 457.15 895.3)" textLength="43.5" lengthAdjust="spacingAndGlyphs">AA &amp; Rot</text>
<text x="449.6" y="835" font-size="10" text-anchor="middle">*</text>
<text x="356.8" y="816.7" font-size="14" text-anchor="middle" transform="rotate(-90 356.8 816.7)" textLength="169.2" lengthAdjust="spacingAndGlyphs">Post-CVX ECAR (% increase)</text>
<rect x="0" y="0" width="520" height="1.8" fill="#000"/><rect x="0" y="0" width="1.9" height="941" fill="#000"/><rect x="518" y="0" width="1.1" height="941" fill="#000"/><rect x="519.1" y="0" width="0.9" height="941" fill="#808080"/><rect x="0" y="938.8" width="520" height="2.2" fill="#000"/>
</svg></body></html>
